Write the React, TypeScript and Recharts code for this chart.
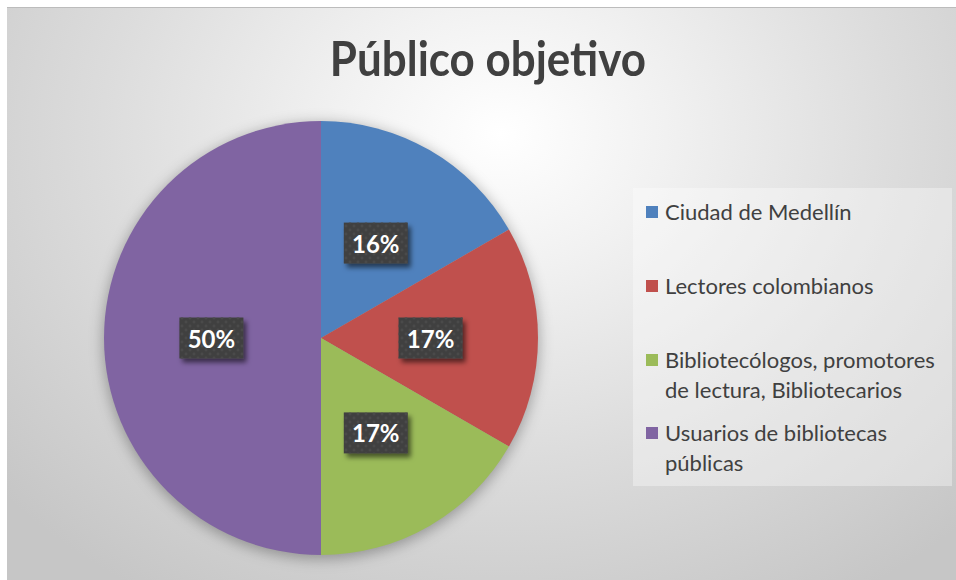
import { Cell, Pie, PieChart } from "recharts"

const categories = [
  "Ciudad de Medellín",
  "Lectores colombianos",
  "Bibliotecólogos, promotores de lectura, Bibliotecarios",
  "Usuarios de bibliotecas públicas",
]
const values = [1, 1, 1, 3]
const pctLabels = ["16%", "17%", "17%", "50%"]
const colors = ["#4f81bd", "#c0504d", "#9bbb59", "#8064a2"]

const shadowData = [{ name: "shadow", value: 1 }]

const RAD = Math.PI / 180
const font = "Lato, 'Open Sans', sans-serif"

// gap above each legend entry
const legendGaps = [9, 44, 44, 13]

function PctLabel(props: any) {
  const { cx, cy, midAngle, outerRadius, index } = props
  const r = outerRadius * 0.505
  const x = cx + r * Math.cos(-midAngle * RAD)
  const y = cy + r * Math.sin(-midAngle * RAD)
  const w = 64
  const h = 41
  return (
    <g>
      <rect x={x - w / 2} y={y - h / 2} width={w} height={h} fill="#404040" filter="url(#boxShadow)" />
      <rect x={x - w / 2} y={y - h / 2} width={w} height={h} fill="url(#dots)" />
      <text
        x={x}
        y={y}
        textAnchor="middle"
        dominantBaseline="central"
        fill="#ffffff"
        fontFamily={font}
        fontWeight={700}
        fontSize={24}
      >
        {pctLabels[index]}
      </text>
    </g>
  )
}

export default function App() {
  const data = categories.map((name, i) => ({ name, value: values[i] }))

  return (
    <div style={{ position: "absolute", left: 0, top: 0, width: 956, height: 580, background: "#fff" }}>
      <div
        style={{
          position: "absolute",
          left: 7,
          top: 7,
          width: 949,
          height: 573,
          borderTop: "1px solid #bcbcbc",
          boxSizing: "border-box",
          background:
            "radial-gradient(ellipse 70% 95% at 52% 22%, #ffffff 0%, #f1f1f1 25%, #dcdcdc 60%, #c6c6c6 100%)",
        }}
      />
      <div
        style={{
          position: "absolute",
          left: 0,
          width: 976,
          top: 30,
          textAlign: "center",
          fontFamily: font,
          fontWeight: 700,
          fontSize: 47,
          color: "#404040",
          transform: "scaleX(0.935)",
        }}
      >
        Público objetivo
      </div>

      <div style={{ position: "absolute", left: 0, top: 0 }}>
        <PieChart width={956} height={580} margin={{ top: 0, right: 0, bottom: 0, left: 0 }}>
          <defs>
            <filter id="pieShadow" x="-20%" y="-20%" width="140%" height="140%">
              <feGaussianBlur stdDeviation="7" />
            </filter>
            <filter id="boxShadow" x="-30%" y="-30%" width="160%" height="160%">
              <feDropShadow dx="3" dy="4" stdDeviation="2.5" floodColor="#000" floodOpacity="0.55" />
            </filter>
            <pattern id="dots" width="8" height="8" patternUnits="userSpaceOnUse">
              <circle cx="2" cy="2" r="1.4" fill="#4a4a4a" />
              <circle cx="6" cy="6" r="1.4" fill="#4a4a4a" />
            </pattern>
          </defs>
          <Pie
            data={shadowData}
            dataKey="value"
            cx={321}
            cy={341}
            outerRadius={218}
            startAngle={90}
            endAngle={-270}
            stroke="none"
            isAnimationActive={false}
            legendType="none"
          >
            <Cell fill="#000" fillOpacity={0.3} filter="url(#pieShadow)" />
          </Pie>
          <Pie
            data={data}
            dataKey="value"
            nameKey="name"
            cx={321}
            cy={338}
            outerRadius={217}
            startAngle={90}
            endAngle={-270}
            stroke="none"
            labelLine={false}
            label={PctLabel}
            isAnimationActive={false}
          >
            {data.map((d, i) => (
              <Cell key={d.name} fill={colors[i]} />
            ))}
          </Pie>
        </PieChart>
      </div>

      <div
        style={{
          position: "absolute",
          left: 633,
          top: 188,
          width: 319,
          height: 298,
          background: "rgba(255,255,255,0.35)",
          fontFamily: font,
          fontSize: 22,
          color: "#404040",
          lineHeight: "30px",
        }}
      >
        {categories.map((name, i) => (
          <div key={name} style={{ display: "flex", marginTop: legendGaps[i], paddingLeft: 13 }}>
            <div
              style={{ width: 12, height: 12, background: colors[i], marginTop: 9, marginRight: 7, flexShrink: 0 }}
            />
            <div style={{ width: 282 }}>{name}</div>
          </div>
        ))}
      </div>
    </div>
  )
}
